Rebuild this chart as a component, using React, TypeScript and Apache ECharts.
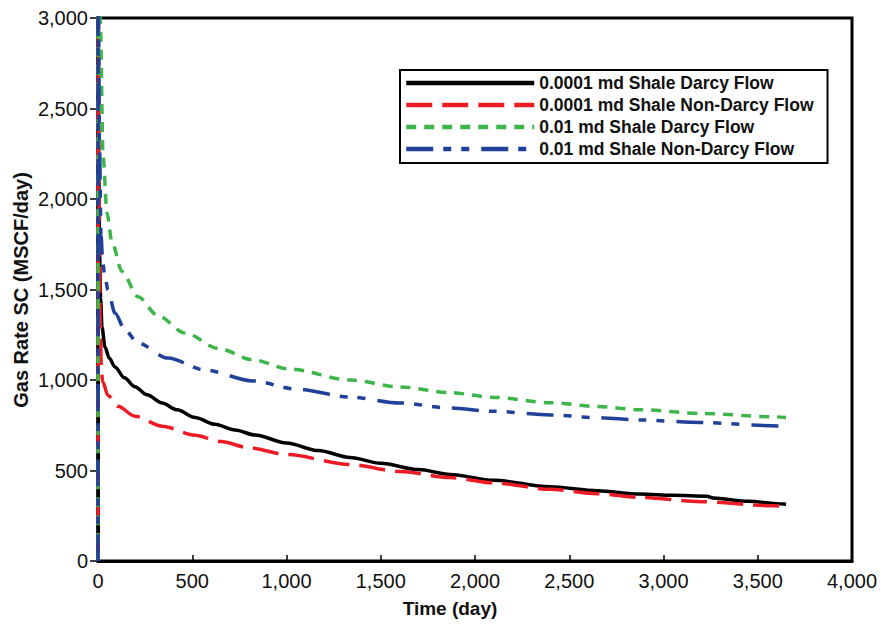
import React, { useEffect, useRef } from 'react';
import * as echarts from 'echarts';

const seriesNames = [
  '0.0001 md Shale Darcy Flow',
  '0.0001 md Shale Non-Darcy Flow',
  '0.01 md Shale Darcy Flow',
  '0.01 md Shale Non-Darcy Flow',
];

const xTitle = 'Time (day)';
const yTitle = 'Gas Rate SC (MSCF/day)';

const darcy0001: number[][] = [
  [0, 0], [1, 3100], [4, 2200], [8, 1700], [14, 1450], [21, 1293], [37, 1182], [60, 1120],
  [90, 1072], [140, 1012], [196, 963], [260, 918], [340, 873], [420, 835], [515, 793],
  [620, 755], [727, 724], [833, 696], [1000, 652], [1170, 610], [1337, 572], [1500, 540],
  [1700, 505], [1867, 478], [2100, 446], [2398, 410], [2650, 388], [2875, 370], [3050, 363],
  [3231, 358], [3263, 348], [3450, 330], [3634, 315], [3650, 313],
];

const nonDarcy0001: number[][] = [
  [0, 0], [1, 3100], [6, 2000], [12, 1300], [18, 1050], [25, 990], [53, 915], [106, 855],
  [196, 800], [340, 745], [515, 695], [650, 660], [806, 625], [1000, 588], [1337, 533],
  [1600, 495], [1867, 461], [2100, 432], [2398, 396], [2650, 372], [2875, 352], [3200, 328],
  [3581, 305], [3650, 301],
];

const darcy001: number[][] = [
  [0, 0], [1, 3500], [12, 2980], [27, 2232], [48, 1923], [74, 1760], [127, 1600], [212, 1460],
  [318, 1355], [462, 1260], [637, 1175], [820, 1112], [1018, 1060], [1337, 1000], [1600, 962],
  [1867, 930], [2100, 904], [2398, 875], [2650, 853], [2875, 836], [3200, 815], [3581, 797],
  [3650, 793],
];

const nonDarcy001: number[][] = [
  [0, 0], [1, 3200], [8, 2300], [16, 1800], [25, 1650], [37, 1570], [53, 1497], [90, 1370],
  [143, 1276], [212, 1204], [371, 1121], [568, 1055], [820, 995], [1050, 950], [1337, 906],
  [1600, 873], [1867, 845], [2100, 827], [2398, 807], [2650, 792], [2875, 779], [3200, 765],
  [3618, 746], [3650, 744],
];

const FONT = '"Liberation Sans", Arial, Helvetica, sans-serif';

export default function App() {
  const ref = useRef<HTMLDivElement>(null);

  useEffect(() => {
    if (!ref.current) return;
    const chart = echarts.init(ref.current, undefined, { renderer: 'svg' });
    const fmt = (v: number) => v.toLocaleString('en-US');
    const mk = (name: string, data: number[][], color: string, type: any) => ({
      name,
      type: 'line',
      data,
      symbol: 'none',
      smooth: 0.3,
      smoothMonotone: 'x',
      lineStyle: { color, width: 3.5, type },
      itemStyle: { color },
    });
    chart.setOption({
      animation: false,
      backgroundColor: '#fff',
      grid: {
        left: 98,
        right: 29,
        top: 18,
        bottom: 69,
        show: true,
        borderColor: '#000',
        borderWidth: 3,
        backgroundColor: 'transparent',
      },
      xAxis: {
        type: 'value',
        min: 0,
        max: 4000,
        interval: 500,
        axisLine: { show: true, lineStyle: { color: '#000', width: 3 } },
        axisTick: { show: true, inside: true, length: 6, lineStyle: { color: '#000', width: 1.5 } },
        axisLabel: { color: '#111', fontSize: 20, fontFamily: FONT, margin: 10, formatter: fmt },
        splitLine: { show: false },
      },
      yAxis: {
        type: 'value',
        min: 0,
        max: 3000,
        interval: 500,
        axisLine: { show: true, lineStyle: { color: '#000', width: 3 } },
        axisTick: { show: true, inside: false, length: 8, lineStyle: { color: '#000', width: 1.5 } },
        axisLabel: { color: '#111', fontSize: 20, fontFamily: FONT, margin: 10, formatter: fmt },
        splitLine: { show: false },
      },
      legend: {
        show: true,
        orient: 'vertical',
        left: 400,
        top: 70,
        itemWidth: 128,
        itemHeight: 14,
        itemGap: 4,
        padding: [4, 14, 5, 4],
        borderColor: '#000',
        borderWidth: 2,
        backgroundColor: '#fff',
        itemStyle: { opacity: 0, borderWidth: 0 },
        lineStyle: { width: 4.5 },
        textStyle: { color: '#111', fontSize: 17.5, fontWeight: 'bold', fontFamily: FONT },
        data: seriesNames,
      },
      graphic: [
        {
          type: 'text',
          x: 21,
          y: 290,
          rotation: Math.PI / 2,
          style: {
            text: yTitle,
            font: `bold 20px ${FONT}`,
            fill: '#111',
            textAlign: 'center',
            textVerticalAlign: 'middle',
          },
        },
        {
          type: 'text',
          x: 450,
          y: 608,
          style: {
            text: xTitle,
            font: `bold 19px ${FONT}`,
            fill: '#111',
            textAlign: 'center',
            textVerticalAlign: 'middle',
          },
        },
      ],
      series: [
        mk(seriesNames[0], darcy0001, '#000000', 'solid'),
        mk(seriesNames[1], nonDarcy0001, '#ED1C24', [26, 10]),
        mk(seriesNames[2], darcy001, '#3DB54A', [10, 8]),
        mk(seriesNames[3], nonDarcy001, '#21409A', [27, 10, 8, 10, 8, 12]),
      ],
    });
    return () => chart.dispose();
  }, []);

  return (
    <div
      ref={ref}
      style={{ position: 'fixed', left: 0, top: 0, width: 881, height: 630, background: '#fff' }}
    />
  );
}
